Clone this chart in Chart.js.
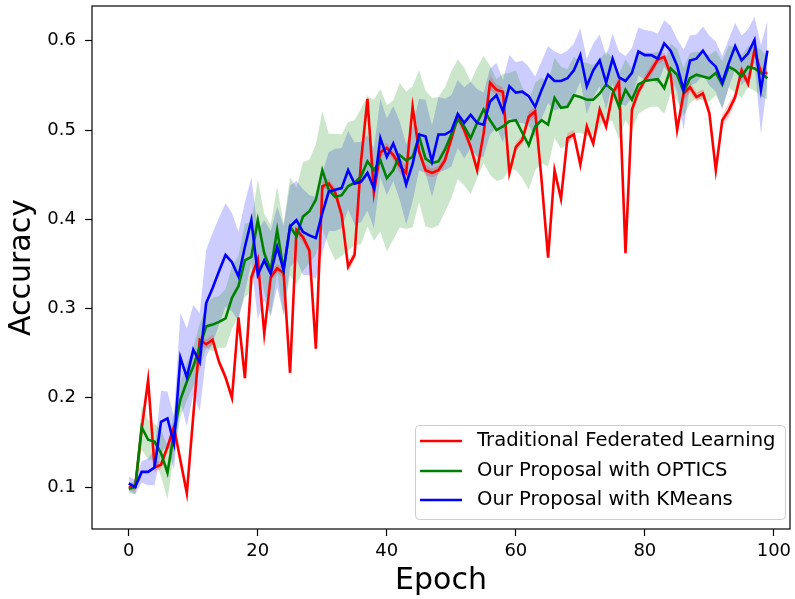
<!DOCTYPE html>
<html>
<head>
<meta charset="utf-8">
<script src="https://cdn.jsdelivr.net/npm/chart.js@4"></script>
<style>
  body { margin: 0; background: #fff; }
  canvas { display: block; }
</style>
</head>
<body>
<canvas id="accChart" width="795" height="599"></canvas>
<script>
// Epochs 0..99
const epochs = Array.from({ length: 100 }, (_, i) => i);
const xTicks = [0, 20, 40, 60, 80, 100];
const yTicks = [0.1, 0.2, 0.3, 0.4, 0.5, 0.6];

const seriesNames = ['Traditional Federated Learning', 'Our Proposal with OPTICS', 'Our Proposal with KMeans'];

// mean accuracy per epoch
const tradMean = [
  0.100, 0.100, 0.165, 0.220, 0.122, 0.125, 0.145, 0.167, 0.130, 0.093,
  0.180, 0.265, 0.260, 0.265, 0.240, 0.223, 0.200, 0.290, 0.222, 0.335,
  0.355, 0.272, 0.335, 0.345, 0.340, 0.228, 0.388, 0.380, 0.365, 0.255,
  0.437, 0.440, 0.430, 0.405, 0.347, 0.360, 0.465, 0.535, 0.430, 0.475,
  0.480, 0.472, 0.460, 0.452, 0.526, 0.476, 0.455, 0.452, 0.455, 0.466,
  0.490, 0.515, 0.500, 0.481, 0.455, 0.496, 0.553, 0.545, 0.543, 0.452,
  0.481, 0.489, 0.515, 0.521, 0.443, 0.357, 0.455, 0.423, 0.491, 0.495,
  0.461, 0.504, 0.485, 0.523, 0.504, 0.541, 0.554, 0.362, 0.523, 0.543,
  0.556, 0.567, 0.579, 0.582, 0.562, 0.500, 0.541, 0.548, 0.537, 0.541,
  0.519, 0.455, 0.511, 0.522, 0.537, 0.567, 0.552, 0.590, 0.564, 0.564
];
const opticsMean = [
  0.098, 0.100, 0.167, 0.153, 0.151, 0.138, 0.116, 0.160, 0.198, 0.218,
  0.235, 0.257, 0.280, 0.282, 0.285, 0.289, 0.312, 0.325, 0.354, 0.358,
  0.399, 0.362, 0.343, 0.388, 0.343, 0.392, 0.381, 0.403, 0.409, 0.422,
  0.455, 0.433, 0.425, 0.427, 0.437, 0.441, 0.448, 0.465, 0.455, 0.466,
  0.446, 0.455, 0.472, 0.466, 0.470, 0.493, 0.468, 0.463, 0.465, 0.478,
  0.495, 0.512, 0.504, 0.491, 0.508, 0.523, 0.511, 0.500, 0.504, 0.510,
  0.511, 0.497, 0.483, 0.504, 0.511, 0.506, 0.536, 0.525, 0.526, 0.539,
  0.537, 0.534, 0.534, 0.541, 0.551, 0.545, 0.526, 0.545, 0.534, 0.551,
  0.555, 0.556, 0.557, 0.547, 0.569, 0.562, 0.543, 0.558, 0.562, 0.560,
  0.558, 0.564, 0.551, 0.571, 0.567, 0.560, 0.571, 0.569, 0.564, 0.558
];
const kmeansMean = [
  0.104, 0.100, 0.117, 0.117, 0.122, 0.173, 0.177, 0.149, 0.245, 0.223,
  0.254, 0.240, 0.306, 0.323, 0.342, 0.360, 0.352, 0.336, 0.369, 0.399,
  0.338, 0.354, 0.339, 0.369, 0.343, 0.392, 0.399, 0.386, 0.382, 0.379,
  0.407, 0.431, 0.433, 0.435, 0.455, 0.440, 0.442, 0.452, 0.435, 0.491,
  0.470, 0.485, 0.466, 0.439, 0.462, 0.495, 0.493, 0.465, 0.495, 0.495,
  0.499, 0.518, 0.508, 0.517, 0.508, 0.506, 0.532, 0.539, 0.521, 0.549,
  0.542, 0.543, 0.538, 0.526, 0.545, 0.562, 0.555, 0.555, 0.558, 0.567,
  0.584, 0.549, 0.567, 0.578, 0.553, 0.580, 0.559, 0.555, 0.564, 0.588,
  0.584, 0.584, 0.580, 0.597, 0.589, 0.572, 0.545, 0.578, 0.580, 0.589,
  0.578, 0.571, 0.553, 0.575, 0.594, 0.578, 0.586, 0.601, 0.545, 0.589
];

// half-width of the shaded band (std) per epoch
const tradStd = [
  0.004, 0.004, 0.005, 0.006, 0.005, 0.005, 0.005, 0.006, 0.005, 0.005,
  0.006, 0.005, 0.005, 0.006, 0.005, 0.005, 0.006, 0.005, 0.005, 0.006,
  0.005, 0.006, 0.005, 0.005, 0.006, 0.005, 0.005, 0.006, 0.005, 0.006,
  0.005, 0.005, 0.006, 0.005, 0.006, 0.005, 0.005, 0.006, 0.005, 0.005,
  0.006, 0.005, 0.008, 0.008, 0.006, 0.005, 0.006, 0.005, 0.005, 0.006,
  0.005, 0.005, 0.006, 0.005, 0.005, 0.006, 0.008, 0.006, 0.005, 0.006,
  0.005, 0.005, 0.006, 0.005, 0.006, 0.005, 0.006, 0.005, 0.006, 0.005,
  0.005, 0.006, 0.005, 0.005, 0.006, 0.005, 0.006, 0.005, 0.006, 0.005,
  0.005, 0.006, 0.005, 0.005, 0.006, 0.005, 0.008, 0.006, 0.005, 0.005,
  0.006, 0.005, 0.006, 0.008, 0.006, 0.005, 0.006, 0.005, 0.006, 0.005
];
const opticsStd = [
  0.005, 0.008, 0.025, 0.022, 0.020, 0.026, 0.030, 0.024, 0.020, 0.021,
  0.022, 0.026, 0.024, 0.030, 0.029, 0.033, 0.035, 0.034, 0.041, 0.039,
  0.046, 0.044, 0.051, 0.049, 0.052, 0.055, 0.054, 0.061, 0.058, 0.062,
  0.066, 0.063, 0.071, 0.068, 0.072, 0.070, 0.076, 0.073, 0.079, 0.080,
  0.082, 0.078, 0.081, 0.077, 0.079, 0.074, 0.076, 0.073, 0.072, 0.070,
  0.071, 0.067, 0.066, 0.063, 0.062, 0.060, 0.061, 0.057, 0.059, 0.054,
  0.056, 0.051, 0.050, 0.049, 0.048, 0.047, 0.045, 0.046, 0.042, 0.043,
  0.040, 0.041, 0.039, 0.038, 0.037, 0.036, 0.037, 0.034, 0.035, 0.033,
  0.032, 0.030, 0.031, 0.029, 0.028, 0.029, 0.027, 0.028, 0.026, 0.027,
  0.026, 0.025, 0.026, 0.024, 0.025, 0.024, 0.023, 0.025, 0.026, 0.024
];
const kmeansStd = [
  0.008, 0.008, 0.012, 0.015, 0.020, 0.035, 0.030, 0.030, 0.050, 0.055,
  0.050, 0.055, 0.060, 0.062, 0.060, 0.058, 0.055, 0.050, 0.050, 0.048,
  0.050, 0.045, 0.048, 0.045, 0.050, 0.046, 0.044, 0.048, 0.045, 0.046,
  0.045, 0.044, 0.046, 0.045, 0.044, 0.046, 0.045, 0.042, 0.045, 0.044,
  0.043, 0.042, 0.044, 0.045, 0.042, 0.040, 0.041, 0.040, 0.042, 0.040,
  0.040, 0.038, 0.040, 0.037, 0.038, 0.036, 0.037, 0.036, 0.035, 0.035,
  0.034, 0.035, 0.033, 0.034, 0.032, 0.032, 0.033, 0.030, 0.031, 0.030,
  0.030, 0.031, 0.030, 0.029, 0.030, 0.028, 0.029, 0.028, 0.028, 0.027,
  0.028, 0.027, 0.028, 0.026, 0.028, 0.030, 0.045, 0.028, 0.027, 0.027,
  0.028, 0.028, 0.030, 0.027, 0.026, 0.028, 0.027, 0.026, 0.050, 0.034
];

const lineColors = ['#ff0000', '#008000', '#0000ff'];
const bandColors = ['rgba(255,0,0,0.2)', 'rgba(0,128,0,0.2)', 'rgba(0,0,255,0.2)'];
const FONT = 'DejaVu Sans';

function pts(arr) {
  return arr.map((v, i) => ({ x: epochs[i], y: v }));
}

// bands first (underneath), then lines: red, green, blue on top
function makeSeries(idx, mean, std) {
  const band = {
    borderColor: 'transparent',
    borderWidth: 0,
    pointRadius: 0,
    tension: 0
  };
  return [
    Object.assign({}, band, {
      label: '_upper' + idx,
      data: pts(mean.map((m, i) => m + std[i])),
      backgroundColor: bandColors[idx],
      fill: '+1',
      order: 10 + idx
    }),
    Object.assign({}, band, {
      label: '_lower' + idx,
      data: pts(mean.map((m, i) => m - std[i])),
      fill: false,
      order: 10 + idx
    }),
    {
      label: seriesNames[idx],
      data: pts(mean),
      borderColor: lineColors[idx],
      borderWidth: 2.6,
      pointRadius: 0,
      tension: 0,
      fill: false,
      order: 3 - idx
    }
  ];
}

const datasets = [].concat(
  makeSeries(0, tradMean, tradStd),
  makeSeries(1, opticsMean, opticsStd),
  makeSeries(2, kmeansMean, kmeansStd)
);

// frame around plot area and matplotlib-style legend in the lower right
const framePlugin = {
  id: 'frame',
  afterDraw(chart) {
    const { ctx, chartArea: a } = chart;
    ctx.save();
    ctx.strokeStyle = '#000';
    ctx.lineWidth = 1.2;
    ctx.strokeRect(a.left, a.top, a.right - a.left, a.bottom - a.top);

    // legend box
    const bx = 415.5, by = 425.5, bw = 370, bh = 94;
    ctx.beginPath();
    ctx.roundRect(bx, by, bw, bh, 4);
    ctx.fillStyle = 'rgba(255,255,255,0.8)';
    ctx.fill();
    ctx.strokeStyle = '#cccccc';
    ctx.lineWidth = 1;
    ctx.stroke();

    ctx.font = '19.6px "' + FONT + '"';
    ctx.textBaseline = 'middle';
    ctx.textAlign = 'left';
    const rows = [441, 471, 500];
    seriesNames.forEach((name, i) => {
      ctx.strokeStyle = lineColors[i];
      ctx.lineWidth = 2.6;
      ctx.beginPath();
      ctx.moveTo(420, rows[i]);
      ctx.lineTo(462, rows[i]);
      ctx.stroke();
      ctx.fillStyle = '#000';
      ctx.fillText(name, 477, rows[i]);
    });
    ctx.restore();
  }
};

new Chart(document.getElementById('accChart').getContext('2d'), {
  type: 'line',
  data: { datasets: datasets },
  options: {
    responsive: false,
    animation: false,
    layout: { padding: { top: 6, right: 5, left: 0, bottom: 0 } },
    plugins: {
      legend: { display: false },
      tooltip: { enabled: false }
    },
    scales: {
      x: {
        type: 'linear',
        min: -5.7,
        max: 102.5,
        afterFit: s => { s.height = 70; s.paddingLeft = 0; s.paddingRight = 0; },
        afterBuildTicks: s => { s.ticks = xTicks.map(v => ({ value: v })); },
        border: { display: false },
        grid: { drawOnChartArea: false, drawTicks: true, tickLength: 7, tickColor: '#000', tickWidth: 1.2 },
        ticks: { color: '#000', padding: 5, font: { family: FONT, size: 18 }, callback: v => String(v) },
        title: { display: true, text: 'Epoch', color: '#000', font: { family: FONT, size: 30 }, padding: { top: 0, bottom: 0 } }
      },
      y: {
        min: 0.053,
        max: 0.639,
        afterFit: s => { s.width = 92; s.paddingTop = 0; s.paddingBottom = 0; },
        afterBuildTicks: s => { s.ticks = yTicks.map(v => ({ value: v })); },
        border: { display: false },
        grid: { drawOnChartArea: false, drawTicks: true, tickLength: 7, tickColor: '#000', tickWidth: 1.2 },
        ticks: { color: '#000', padding: 9, font: { family: FONT, size: 18 }, callback: v => v.toFixed(1) },
        title: { display: true, text: 'Accuracy', color: '#000', font: { family: FONT, size: 30 }, padding: { top: 4, bottom: 0 } }
      }
    }
  },
  plugins: [framePlugin]
});
</script>
</body>
</html>
